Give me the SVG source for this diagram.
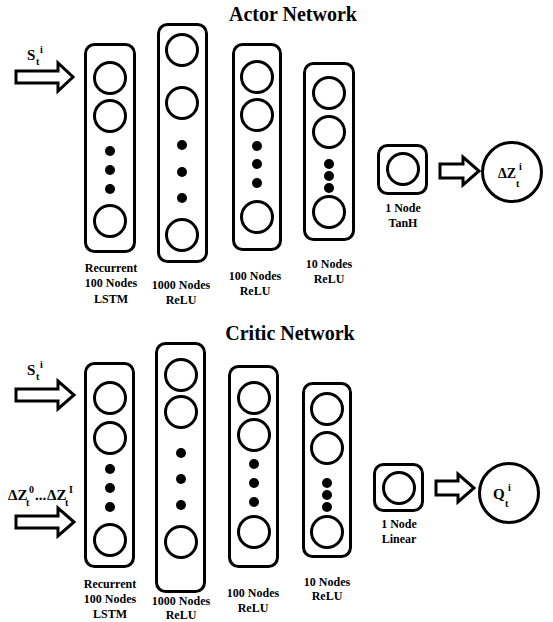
<svg xmlns="http://www.w3.org/2000/svg" width="553" height="622" viewBox="0 0 553 622">
<style>
text{font-family:"Liberation Serif","Times New Roman",serif;font-weight:bold;fill:#000}
.title{font-size:20px;text-anchor:middle}
.lbl{font-size:12px;text-anchor:middle}
.io{font-size:15px}
.sm{font-size:10px}
.box{fill:none;stroke:#000;stroke-width:3}
.n{fill:none;stroke:#000;stroke-width:3}
.d{fill:#000}
.arr{fill:#fff;stroke:#000;stroke-width:3;stroke-linejoin:miter}
.out{fill:#fff;stroke:#000;stroke-width:3}
</style>
<rect width="553" height="622" fill="#fff"/>

<!-- ACTOR -->
<text class="title" x="293" y="21">Actor Network</text>

<g id="actor-input">
<text class="io" x="27" y="60">S<tspan class="sm" x="36" y="65">t</tspan><tspan class="sm" x="40" y="53">i</tspan></text>
</g>

<g id="actor-lstm">
<rect class="box" x="85.5" y="44.5" width="49" height="207" rx="9"/>
<circle class="n" cx="110" cy="78" r="15.5"/>
<circle class="n" cx="110" cy="116" r="15.5"/>
<circle class="d" cx="110" cy="151" r="5"/>
<circle class="d" cx="110" cy="170" r="5"/>
<circle class="d" cx="110" cy="189" r="5"/>
<circle class="n" cx="110" cy="221" r="15.5"/>
<text class="lbl" x="111" y="272">Recurrent</text>
<text class="lbl" x="111" y="287">100 Nodes</text>
<text class="lbl" x="111" y="303">LSTM</text>
</g>

<g id="actor-1000">
<rect class="box" x="158.5" y="24.5" width="48" height="237" rx="9"/>
<circle class="n" cx="182" cy="50" r="15.5"/>
<circle class="n" cx="182" cy="103" r="15.5"/>
<circle class="d" cx="182" cy="145" r="5"/>
<circle class="d" cx="182" cy="172" r="5"/>
<circle class="d" cx="182" cy="198" r="5"/>
<circle class="n" cx="182" cy="235" r="15.5"/>
<text class="lbl" x="181" y="289">1000 Nodes</text>
<text class="lbl" x="181" y="304">ReLU</text>
</g>

<g id="actor-100">
<rect class="box" x="233.5" y="44.5" width="47" height="205" rx="9"/>
<circle class="n" cx="257" cy="77" r="15.5"/>
<circle class="n" cx="257" cy="115" r="15.5"/>
<circle class="d" cx="257" cy="146" r="5"/>
<circle class="d" cx="257" cy="164" r="5"/>
<circle class="d" cx="257" cy="183" r="5"/>
<circle class="n" cx="257" cy="217" r="15.5"/>
<text class="lbl" x="255" y="280">100 Nodes</text>
<text class="lbl" x="255" y="295">ReLU</text>
</g>

<g id="actor-10">
<rect class="box" x="304.5" y="63.5" width="49" height="176" rx="9"/>
<circle class="n" cx="329" cy="93" r="15.5"/>
<circle class="n" cx="329" cy="132" r="15.5"/>
<circle class="d" cx="329" cy="164" r="5"/>
<circle class="d" cx="329" cy="176" r="5"/>
<circle class="d" cx="329" cy="188" r="5"/>
<circle class="n" cx="329" cy="212" r="15.5"/>
<text class="lbl" x="329" y="268">10 Nodes</text>
<text class="lbl" x="329" y="283">ReLU</text>
</g>

<g id="actor-tanh">
<rect class="box" x="378.5" y="145.5" width="48" height="48" rx="9"/>
<circle class="n" cx="403" cy="169" r="15.5"/>
<text class="lbl" x="403" y="212">1 Node</text>
<text class="lbl" x="403" y="227">TanH</text>
</g>

<g id="actor-output">
<circle class="out" cx="512" cy="172" r="29.5"/>
<text style="font-size:14px" x="498" y="178">ΔZ<tspan class="sm" x="516" y="187">t</tspan><tspan class="sm" x="519" y="170">i</tspan></text>
</g>

<!-- CRITIC -->
<text class="title" x="290" y="340">Critic Network</text>

<g id="critic-input-s">
<text class="io" x="27" y="375">S<tspan class="sm" x="36" y="380">t</tspan><tspan class="sm" x="40" y="368">i</tspan></text>
</g>

<g id="critic-input-dz">
<text class="io" x="8" y="500">ΔZ<tspan class="sm" x="26" y="506">t</tspan><tspan class="sm" x="29" y="493">0</tspan><tspan x="35" y="500">...</tspan><tspan x="47" y="500">ΔZ</tspan><tspan class="sm" x="65" y="506">t</tspan><tspan class="sm" x="69" y="493">I</tspan></text>
</g>

<g id="critic-lstm">
<rect class="box" x="85.5" y="363.5" width="48" height="203" rx="9"/>
<circle class="n" cx="110" cy="398" r="15.5"/>
<circle class="n" cx="110" cy="438" r="15.5"/>
<circle class="d" cx="110" cy="469" r="5"/>
<circle class="d" cx="110" cy="488" r="5"/>
<circle class="d" cx="110" cy="507" r="5"/>
<circle class="n" cx="110" cy="540" r="15.5"/>
<text class="lbl" x="110" y="588">Recurrent</text>
<text class="lbl" x="110" y="603">100 Nodes</text>
<text class="lbl" x="110" y="618">LSTM</text>
</g>

<g id="critic-1000">
<rect class="box" x="156.5" y="343.5" width="48" height="248" rx="9"/>
<circle class="n" cx="181" cy="375" r="15.5"/>
<circle class="n" cx="181" cy="412" r="15.5"/>
<circle class="d" cx="181" cy="453" r="5"/>
<circle class="d" cx="181" cy="479" r="5"/>
<circle class="d" cx="181" cy="505" r="5"/>
<circle class="n" cx="181" cy="542" r="15.5"/>
<text class="lbl" x="181" y="605">1000 Nodes</text>
<text class="lbl" x="181" y="619">ReLU</text>
</g>

<g id="critic-100">
<rect class="box" x="229.5" y="366.5" width="48" height="200" rx="9"/>
<circle class="n" cx="254" cy="398" r="15.5"/>
<circle class="n" cx="254" cy="435" r="15.5"/>
<circle class="d" cx="254" cy="464" r="5"/>
<circle class="d" cx="254" cy="483" r="5"/>
<circle class="d" cx="254" cy="502" r="5"/>
<circle class="n" cx="254" cy="532" r="15.5"/>
<text class="lbl" x="253" y="597">100 Nodes</text>
<text class="lbl" x="253" y="612">ReLU</text>
</g>

<g id="critic-10">
<rect class="box" x="303.5" y="383.5" width="47" height="173" rx="9"/>
<circle class="n" cx="327" cy="409" r="15.5"/>
<circle class="n" cx="327" cy="448" r="15.5"/>
<circle class="d" cx="327" cy="483" r="5"/>
<circle class="d" cx="327" cy="495" r="5"/>
<circle class="d" cx="327" cy="507" r="5"/>
<circle class="n" cx="327" cy="532" r="15.5"/>
<text class="lbl" x="327" y="586">10 Nodes</text>
<text class="lbl" x="327" y="600">ReLU</text>
</g>

<g id="critic-linear">
<rect class="box" x="374.5" y="464.5" width="48" height="46" rx="9"/>
<circle class="n" cx="399" cy="488" r="15.5"/>
<text class="lbl" x="399" y="528">1 Node</text>
<text class="lbl" x="399" y="543">Linear</text>
</g>

<g id="critic-output">
<circle class="out" cx="509" cy="493" r="29.5"/>
<text class="io" x="493" y="499">Q<tspan class="sm" x="505" y="507">t</tspan><tspan class="sm" x="508" y="491">i</tspan></text>
</g>

<g id="connectors">
<path class="arr" d="M16,71 H58 V63 L73,77 L58,91 V83 H16 Z"/>
<path class="arr" d="M440,164 H463 V157 L479,171 L463,185 V178 H440 Z"/>
<path class="arr" d="M16,389 H58 V381 L74,395 L58,409 V401 H16 Z"/>
<path class="arr" d="M16,516 H58 V508 L74,522 L58,536 V528 H16 Z"/>
<path class="arr" d="M436,481 H458 V474 L474,488 L458,502 V495 H436 Z"/>
</g>
</svg>
